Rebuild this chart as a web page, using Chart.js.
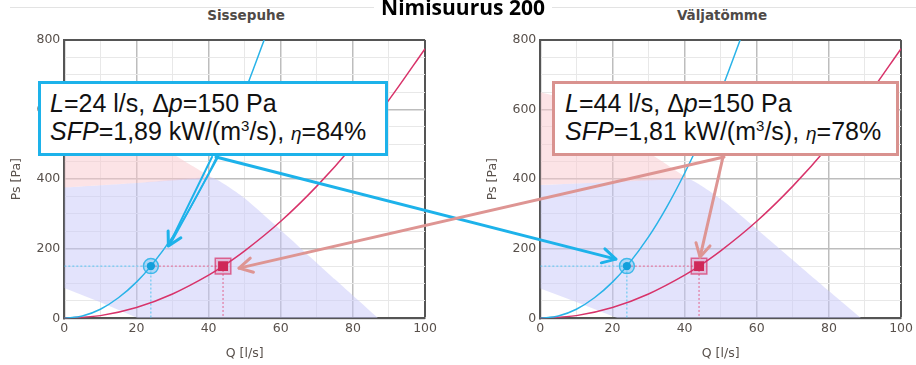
<!DOCTYPE html>
<html>
<head>
<meta charset="utf-8">
<script src="https://cdn.jsdelivr.net/npm/chart.js@4.4.1/dist/chart.umd.min.js"></script>
<style>
  html, body { margin: 0; padding: 0; background: #fff; }
  body { width: 916px; height: 365px; position: relative; overflow: hidden; font-family: 'Liberation Sans', Arial, sans-serif; }
  canvas { position: absolute; top: 0; }
  #chartSupply { left: 0; }
  #chartExhaust { left: 476px; }
  #arrows { left: 0; z-index: 2; }
  .rule { position: absolute; top: 7px; height: 1px; background: #e3e3e3; }
  .main { position: absolute; top: -3px; left: 0; width: 926px; text-align: center; font: 700 21px/20px 'Open Sans', sans-serif; color: #000; z-index: 1; }
  .sub { position: absolute; top: 6px; width: 440px; text-align: center; font: 700 13.5px/18px 'DejaVu Sans', sans-serif; color: #4f4a47; }
  .box { position: absolute; top: 81px; height: 75px; box-sizing: border-box; background: #fff; z-index: 3; }
  .line { position: absolute; white-space: nowrap; font-size: 25px; line-height: 30px; color: #111; z-index: 4; }
  .small { font-size: 19px; }
  .sup { position: relative; top: -9px; font-size: 15px; }
</style>
</head>
<body>
<div class="rule" style="left:10px;width:364px"></div>
<div class="rule" style="left:552px;width:364px"></div>
<div class="main">Nimisuurus 200</div>
<div class="sub" style="left:26px">Sissepuhe</div>
<div class="sub" style="left:502px">Väljatömme</div>

<canvas id="chartSupply" width="440" height="365"></canvas>
<canvas id="chartExhaust" width="440" height="365"></canvas>
<canvas id="arrows" width="916" height="365"></canvas>

<div class="box" style="left:38px;width:350px;border:3px solid #1db2ea"></div>
<div class="box" style="left:552px;width:347px;border:3px solid #d9928f"></div>
<div class="line" id="boxA1" style="left:50px;top:88px"></div>
<div class="line" id="boxA2" style="left:50px;top:116px"></div>
<div class="line" id="boxB1" style="left:565px;top:88px"></div>
<div class="line" id="boxB2" style="left:565px;top:116px"></div>

<script>
// Operating points: [supply, exhaust]
const opFlow = [24, 44];          // l/s
const opPressure = [150, 150];    // Pa
const sfpValues = ['1,89', '1,81'];
const etaValues = [84, 78];

// Duct system curves (Q in l/s, Ps in Pa)
const sysAQ = [0, 5, 10, 15, 20, 24, 30, 35, 40, 45, 50, 55.4];
const sysAP = [0, 6.5, 26, 59, 104, 150, 234, 319, 417, 527, 651, 800];
const sysBQ = [0, 10, 20, 30, 40, 44, 50, 60, 70, 80, 90, 100];
const sysBP = [0, 7.7, 31, 70, 124, 150, 194, 279, 380, 496, 628, 775];

// Fan working ranges, Sissepuhe
const supPinkTopQ = [0, 8, 20, 32, 41];
const supPinkTopP = [650, 628, 545, 460, 404];
const supPinkLowQ = [0, 20, 41];
const supPinkLowP = [376, 389, 404];
const supBlueTopQ = [0, 20, 41, 50, 64, 75, 87];
const supBlueTopP = [376, 389, 404, 345, 216, 112, 0];
const supBlueLowQ = [0, 10, 20.5, 87];
const supBlueLowP = [87, 46, 0, 0];

// Fan working ranges, Väljatömme
const exhPinkTopQ = [0, 8, 20, 32, 41];
const exhPinkTopP = [650, 628, 545, 463, 401];
const exhPinkLowQ = [0, 20, 41];
const exhPinkLowP = [383, 392, 401];
const exhBlueTopQ = [0, 20, 41, 51, 64, 76, 89];
const exhBlueTopP = [383, 392, 401, 335, 221, 114, 0];
const exhBlueLowQ = [0, 10, 21.5, 89];
const exhBlueLowP = [86, 47, 0, 0];

// Labelled ticks
const xTickLabels = [0, 20, 40, 60, 80, 100];
const yTickLabels = [0, 200, 400, 600, 800];

const BLUE = '#29b3e8';
const PINK = '#d8336a';
const TICK = '#58504b';

const pts = (qs, ps) => qs.map((q, i) => ({ x: q, y: ps[i] }));

function region(qs, ps, fillTarget, color, tension) {
  return {
    data: pts(qs, ps), borderWidth: 0, pointRadius: 0, tension: tension || 0, order: 10,
    fill: fillTarget === null ? false : { target: fillTarget }, backgroundColor: color
  };
}

function makeChart(id, r) {
  const datasets = [
    region(r.pinkLowQ, r.pinkLowP, null, 'transparent'),                       // 0
    region(r.pinkTopQ, r.pinkTopP, 0, 'rgba(250, 200, 205, 0.5)', 0.2),        // 1
    region(r.blueLowQ, r.blueLowP, null, 'transparent'),                       // 2
    region(r.blueTopQ, r.blueTopP, 2, 'rgba(200, 200, 250, 0.5)', 0.15),       // 3
    // system curves
    { data: pts(sysAQ, sysAP), borderColor: BLUE, borderWidth: 1.5, pointRadius: 0, cubicInterpolationMode: 'monotone', fill: false, order: 5 },
    { data: pts(sysBQ, sysBP), borderColor: PINK, borderWidth: 1.5, pointRadius: 0, cubicInterpolationMode: 'monotone', fill: false, order: 5 },
    // guide lines to the operating points
    { data: [{ x: 0, y: opPressure[0] }, { x: opFlow[0], y: opPressure[0] }, { x: opFlow[0], y: 0 }], borderColor: '#55c4ef', borderWidth: 1, borderDash: [2, 2], pointRadius: 0, fill: false, order: 6 },
    { data: [{ x: opFlow[0], y: opPressure[1] }, { x: opFlow[1], y: opPressure[1] }, { x: opFlow[1], y: 0 }], borderColor: '#e2648d', borderWidth: 1, borderDash: [2, 2], pointRadius: 0, fill: false, order: 6 },
    // operating point markers
    { data: [{ x: opFlow[0], y: opPressure[0] }], showLine: false, pointStyle: 'circle', pointRadius: 7.5, pointBackgroundColor: 'rgba(41,179,232,0.28)', pointBorderColor: 'rgba(41,179,232,0.85)', pointBorderWidth: 1.5, order: 2 },
    { data: [{ x: opFlow[0], y: opPressure[0] }], showLine: false, pointStyle: 'circle', pointRadius: 4.2, pointBackgroundColor: '#139fdb', pointBorderWidth: 0, order: 1 },
    { data: [{ x: opFlow[1], y: opPressure[1] }], showLine: false, pointStyle: 'rect', pointRadius: 11, pointBackgroundColor: 'rgba(216,51,106,0.22)', pointBorderColor: 'rgba(216,51,106,0.7)', pointBorderWidth: 1.5, order: 2 },
    { data: [{ x: opFlow[1], y: opPressure[1] }], showLine: false, pointStyle: 'rect', pointRadius: 7, pointBackgroundColor: '#cf2858', pointBorderWidth: 0, order: 1 }
  ];

  const gridColor = (ctx, max) => {
    const v = ctx.tick.value;
    if (v === max) return '#555';
    return ctx.scale.axis === 'x' ? (v % 20 === 0 ? '#bdbdbd' : '#e8e8e8') : (v % 200 === 0 ? '#bdbdbd' : '#e8e8e8');
  };
  const gridWidth = (ctx, max) => {
    const v = ctx.tick.value;
    if (v === max) return 2;
    return ctx.scale.axis === 'x' ? (v % 20 === 0 ? 1.5 : 1) : (v % 200 === 0 ? 1.5 : 1);
  };
  const tickFont = { family: 'DejaVu Sans', size: 12.5 };
  const titleFont = { family: 'DejaVu Sans', size: 12.5 };

  return new Chart(document.getElementById(id), {
    type: 'line',
    data: { datasets },
    options: {
      responsive: false,
      animation: false,
      events: [],
      layout: { padding: { left: 0, right: 12.3, top: 40, bottom: 0 } },
      plugins: { legend: { display: false }, tooltip: { enabled: false }, title: { display: false } },
      scales: {
        x: {
          type: 'linear', min: 0, max: 100,
          ticks: { stepSize: 10, autoSkip: false, maxRotation: 0, padding: 3, color: TICK, font: tickFont,
                   callback: v => xTickLabels.includes(v) ? String(v) : '' },
          grid: { drawTicks: false, color: c => gridColor(c, 100), lineWidth: c => gridWidth(c, 100) },
          border: { color: '#555', width: 2 },
          title: { display: true, text: 'Q [l/s]', color: TICK, font: titleFont, padding: { top: 0, bottom: 4 } },
          afterFit: s => { s.height = 46.7; }
        },
        y: {
          type: 'linear', min: 0, max: 800,
          ticks: { stepSize: 50, autoSkip: false, padding: 4, color: TICK, font: tickFont,
                   callback: v => yTickLabels.includes(v) ? String(v) : '' },
          grid: { drawTicks: false, color: c => gridColor(c, 800), lineWidth: c => gridWidth(c, 800) },
          border: { color: '#555', width: 2 },
          title: { display: true, text: 'Ps [Pa]', color: TICK, font: titleFont, padding: { top: 9, bottom: 0 } },
          afterFit: s => { s.width = 64.3; }
        }
      }
    }
  });
}

const chartSupply = makeChart('chartSupply', {
  pinkTopQ: supPinkTopQ, pinkTopP: supPinkTopP, pinkLowQ: supPinkLowQ, pinkLowP: supPinkLowP,
  blueTopQ: supBlueTopQ, blueTopP: supBlueTopP, blueLowQ: supBlueLowQ, blueLowP: supBlueLowP
});
const chartExhaust = makeChart('chartExhaust', {
  pinkTopQ: exhPinkTopQ, pinkTopP: exhPinkTopP, pinkLowQ: exhPinkLowQ, pinkLowP: exhPinkLowP,
  blueTopQ: exhBlueTopQ, blueTopP: exhBlueTopP, blueLowQ: exhBlueLowQ, blueLowP: exhBlueLowP
});

// Callout texts
function fillBox(i, a, b) {
  document.getElementById(a).innerHTML =
    '<i>L</i>=' + opFlow[i] + ' l/s, \u0394<i>p</i>=' + opPressure[i] + ' Pa';
  document.getElementById(b).innerHTML =
    '<i>SFP</i>=' + sfpValues[i] + ' kW/(m<span class="sup">3</span>/s), <i class="small">\u03B7</i>=' + etaValues[i] + '%';
}
fillBox(0, 'boxA1', 'boxA2');
fillBox(1, 'boxB1', 'boxB2');

// Callout arrows, anchored to the operating points of each chart
const at = (chart, left, q, p) => [left + chart.scales.x.getPixelForValue(q), chart.scales.y.getPixelForValue(p)];
const blueS = at(chartSupply, 0, opFlow[0], opPressure[0]);
const blueE = at(chartExhaust, 476, opFlow[0], opPressure[0]);
const pinkS = at(chartSupply, 0, opFlow[1], opPressure[1]);
const pinkE = at(chartExhaust, 476, opFlow[1], opPressure[1]);

const ctx = document.getElementById('arrows').getContext('2d');
ctx.lineCap = 'round';
ctx.lineJoin = 'round';

function line(x1, y1, x2, y2, color, w) {
  ctx.strokeStyle = color; ctx.lineWidth = w;
  ctx.beginPath(); ctx.moveTo(x1, y1); ctx.lineTo(x2, y2); ctx.stroke();
}
function head(fx, fy, tx, ty, color, w, len, ang) {
  const a = Math.atan2(ty - fy, tx - fx);
  ctx.strokeStyle = color; ctx.lineWidth = w;
  ctx.beginPath();
  ctx.moveTo(tx - len * Math.cos(a - ang), ty - len * Math.sin(a - ang));
  ctx.lineTo(tx, ty);
  ctx.lineTo(tx - len * Math.cos(a + ang), ty - len * Math.sin(a + ang));
  ctx.stroke();
}
function arrow(x1, y1, x2, y2, color, w) {
  line(x1, y1, x2, y2, color, w);
  head(x1, y1, x2, y2, color, w, 15, 0.5);
}

const BLUE_A = '#1db2ea';
const PINK_A = '#de9593';

// supply box -> supply chart point (double stroke)
const tA = [blueS[0] + 17.5, blueS[1] - 20];
line(212, 157, tA[0] + 1, tA[1] - 2, BLUE_A, 2);
line(218, 157, tA[0] + 3, tA[1] - 4, BLUE_A, 2);
head(215, 157, tA[0], tA[1], BLUE_A, 3, 15, 0.5);
// supply box -> exhaust chart point
arrow(216, 157, blueE[0] - 11, blueE[1] - 7, BLUE_A, 3);
// exhaust box -> supply chart point
arrow(724, 157, pinkS[0] + 16, pinkS[1] + 2, PINK_A, 3);
// exhaust box -> exhaust chart point
arrow(723, 157, pinkE[0] + 1, pinkE[1] - 9, PINK_A, 3);
</script>
</body>
</html>
